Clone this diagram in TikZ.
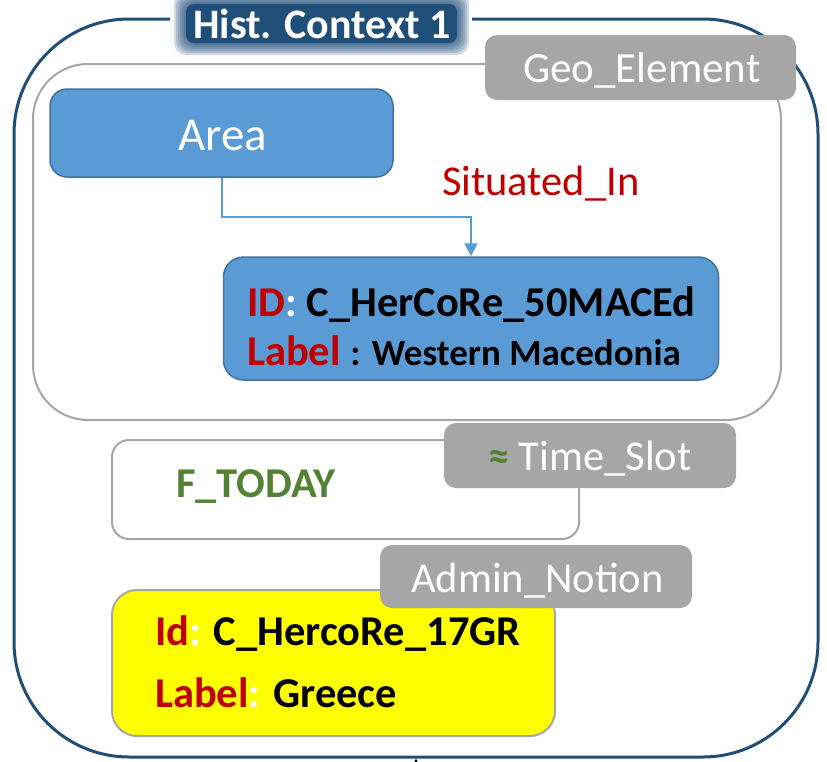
\documentclass[tikz,border=0pt]{standalone}
\usepackage{fontspec}
\setmainfont{Carlito}
\usetikzlibrary{arrows.meta}
\definecolor{frameblue}{HTML}{1F4E79}
\definecolor{boxblue}{HTML}{5B9BD5}
\definecolor{boxedge}{HTML}{41719C}
\definecolor{lblgray}{HTML}{A6A6A6}
\definecolor{darkred}{HTML}{C00000}
\definecolor{fgreen}{HTML}{548235}
\definecolor{brightyellow}{RGB}{255,255,0}
\begin{document}
\begin{tikzpicture}[x=1pt,y=-1pt,
  lbl/.style={fill=lblgray, rounded corners=12pt, inner sep=0pt},
  bluebox/.style={fill=boxblue, draw=boxedge, line width=1.5pt, inner sep=0pt},
  graybox/.style={draw=lblgray, line width=2pt, inner sep=0pt},
  txt/.style={inner sep=0pt, anchor=base west},
  big/.style={font=\fontsize{42.5}{42.5}\selectfont},
  bigb/.style={font=\bfseries\fontsize{42.5}{42.5}\selectfont},
  conn/.style={draw=boxblue, line width=2pt, -{Triangle[length=13pt,width=13pt]}}]
\useasboundingbox[fill=white] (0,0) rectangle (827,761);
% outer frame
\node[draw=frameblue, line width=3pt, rounded corners=115pt, minimum width=804pt, minimum height=738pt, inner sep=0pt] (outer) at (416,388) {};
% Geo element container
\node[graybox, rounded corners=55pt, minimum width=748pt, minimum height=356pt] (geo) at (407,242) {};
\node[lbl, minimum width=311pt, minimum height=65pt] (geolbl) at (640.5,67.5) {};
\node[txt, text=white, font=\fontsize{43}{43}\selectfont] (geotxt) at (523,82) {Geo\_Element};
% Area
\node[bluebox, rounded corners=17pt, minimum width=343pt, minimum height=88pt] (area) at (221.5,133) {};
\node[txt, text=white, font=\fontsize{47}{47}\selectfont] (areatxt) at (178,150) {Area};
% ID box
\node[bluebox, rounded corners=20pt, minimum width=495pt, minimum height=123pt] (idbox) at (471,318.5) {};
\node[txt, bigb] (idl1) at (247,316) {\textcolor{darkred}{ID}\textcolor{white}{:} C\_HerCoRe\_50MACEd};
\node[txt, bigb] (idl2) at (247,365) {\textcolor{darkred}{Label} {\fontsize{37}{37}\selectfont: Western Macedonia}};
% connector
\draw[conn] (area.south) -- ++(0,39) -| (idbox.north);
\node[txt, text=darkred, big] (sit) at (442,195) {Situated\_In};
% Time slot
\node[graybox, rounded corners=17pt, minimum width=467pt, minimum height=99pt] (time) at (345.5,489.5) {};
\node[lbl, minimum width=292pt, minimum height=65pt] (timelbl) at (590,455.5) {};
\node[txt, big] (timetxt) at (488,470) {\textcolor{fgreen}{\textbf{≈}} \textcolor{white}{Time\_Slot}};
\node[txt, text=fgreen, bigb] (ftoday) at (176,497) {F\_TODAY};
% Admin notion
\node[fill=brightyellow, draw=lblgray, line width=2pt, rounded corners=25pt, minimum width=443pt, minimum height=146pt, inner sep=0pt] (yel) at (333.5,663) {};
\node[lbl, minimum width=312pt, minimum height=63pt] (admlbl) at (536,576.5) {};
\node[txt, text=white, big] (admtxt) at (411,592) {Admin\_Notion};
\node[txt, bigb] (y1) at (155,645) {\textcolor{darkred}{Id}\textcolor{white}{:} C\_HercoRe\_17GR};
\node[txt, bigb] (y2) at (155,707) {\textcolor{darkred}{Label}\textcolor{white}{:} Greece};
% title with glow
\fill[white] (170,0) rectangle (472,58);
\foreach \g in {12,10,8,6,4,2}{
  \fill[frameblue, opacity=0.2, rounded corners=12pt] (186-\g,4-\g) rectangle (457+\g,43+\g);
}
\node[fill=frameblue, rounded corners=8pt, minimum width=271pt, minimum height=39pt, inner sep=0pt] (title) at (321.5,23.5) {};
\node[txt, text=white, font=\bfseries\fontsize{42}{42}\selectfont] (titletxt) at (193,38) {Hist. Context 1};
% cut connector entering from below
\coordinate (below) at (416,800);
\draw[line width=1pt, -{Triangle[length=7pt,width=6pt]}] (below) -- (outer.south);
\end{tikzpicture}
\end{document}
